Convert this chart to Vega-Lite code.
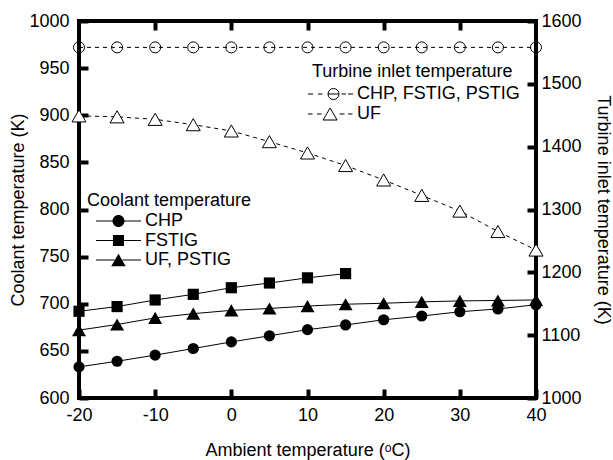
{
  "$schema": "https://vega.github.io/schema/vega-lite/v6.json",
  "width": 457,
  "height": 377,
  "autosize": "none",
  "padding": {"left": 79, "top": 21, "right": 77, "bottom": 62},
  "background": "white",
  "config": {
    "view": {"stroke": "black", "strokeWidth": 4},
    "font": "Arial, Liberation Sans, sans-serif",
    "axis": {
      "grid": false,
      "domain": false,
      "tickColor": "black",
      "tickWidth": 4,
      "tickSize": -9,
      "labelFlush": false,
      "labelExpr": "'' + datum.value",
      "labelFont": "Arial, Liberation Sans, sans-serif",
      "labelFontSize": 18,
      "labelColor": "black",
      "titleFont": "Arial, Liberation Sans, sans-serif",
      "titleFontSize": 18,
      "titleFontWeight": "normal",
      "titleColor": "black"
    },
    "legend": {
      "labelFont": "Arial, Liberation Sans, sans-serif",
      "labelFontSize": 18,
      "labelColor": "black",
      "labelLimit": 400,
      "titleFont": "Arial, Liberation Sans, sans-serif",
      "titleFontSize": 18,
      "titleFontWeight": "normal",
      "titleColor": "black",
      "titleLimit": 400,
      "symbolSize": 100,
      "symbolStrokeWidth": 1,
      "symbolOpacity": 1
    }
  },
  "datasets": {
    "coolant": [
      {"series": "CHP", "ambient": -20, "temp": 633},
      {"series": "CHP", "ambient": -15, "temp": 639},
      {"series": "CHP", "ambient": -10, "temp": 645.5},
      {"series": "CHP", "ambient": -5, "temp": 652.5},
      {"series": "CHP", "ambient": 0, "temp": 659.5},
      {"series": "CHP", "ambient": 5, "temp": 666},
      {"series": "CHP", "ambient": 10, "temp": 672.5},
      {"series": "CHP", "ambient": 15, "temp": 677.5},
      {"series": "CHP", "ambient": 20, "temp": 683},
      {"series": "CHP", "ambient": 25, "temp": 687},
      {"series": "CHP", "ambient": 30, "temp": 691.5},
      {"series": "CHP", "ambient": 35, "temp": 694.5},
      {"series": "CHP", "ambient": 40, "temp": 699},
      {"series": "FSTIG", "ambient": -20, "temp": 692},
      {"series": "FSTIG", "ambient": -15, "temp": 697},
      {"series": "FSTIG", "ambient": -10, "temp": 704},
      {"series": "FSTIG", "ambient": -5, "temp": 710},
      {"series": "FSTIG", "ambient": 0, "temp": 717},
      {"series": "FSTIG", "ambient": 5, "temp": 722},
      {"series": "FSTIG", "ambient": 10, "temp": 727.5},
      {"series": "FSTIG", "ambient": 15, "temp": 732},
      {"series": "UF, PSTIG", "ambient": -20, "temp": 672},
      {"series": "UF, PSTIG", "ambient": -15, "temp": 678},
      {"series": "UF, PSTIG", "ambient": -10, "temp": 685},
      {"series": "UF, PSTIG", "ambient": -5, "temp": 689.5},
      {"series": "UF, PSTIG", "ambient": 0, "temp": 693},
      {"series": "UF, PSTIG", "ambient": 5, "temp": 695},
      {"series": "UF, PSTIG", "ambient": 10, "temp": 697.5},
      {"series": "UF, PSTIG", "ambient": 15, "temp": 699.5},
      {"series": "UF, PSTIG", "ambient": 20, "temp": 700.5},
      {"series": "UF, PSTIG", "ambient": 25, "temp": 702},
      {"series": "UF, PSTIG", "ambient": 30, "temp": 703},
      {"series": "UF, PSTIG", "ambient": 35, "temp": 703.5},
      {"series": "UF, PSTIG", "ambient": 40, "temp": 704}
    ],
    "tit": [
      {"series": "CHP, FSTIG, PSTIG", "ambient": -20, "temp": 1558},
      {"series": "CHP, FSTIG, PSTIG", "ambient": -15, "temp": 1558},
      {"series": "CHP, FSTIG, PSTIG", "ambient": -10, "temp": 1558},
      {"series": "CHP, FSTIG, PSTIG", "ambient": -5, "temp": 1558},
      {"series": "CHP, FSTIG, PSTIG", "ambient": 0, "temp": 1558},
      {"series": "CHP, FSTIG, PSTIG", "ambient": 5, "temp": 1558},
      {"series": "CHP, FSTIG, PSTIG", "ambient": 10, "temp": 1558},
      {"series": "CHP, FSTIG, PSTIG", "ambient": 15, "temp": 1558},
      {"series": "CHP, FSTIG, PSTIG", "ambient": 20, "temp": 1558},
      {"series": "CHP, FSTIG, PSTIG", "ambient": 25, "temp": 1558},
      {"series": "CHP, FSTIG, PSTIG", "ambient": 30, "temp": 1558},
      {"series": "CHP, FSTIG, PSTIG", "ambient": 35, "temp": 1558},
      {"series": "CHP, FSTIG, PSTIG", "ambient": 40, "temp": 1558},
      {"series": "UF", "ambient": -20, "temp": 1449},
      {"series": "UF", "ambient": -15, "temp": 1447.5},
      {"series": "UF", "ambient": -10, "temp": 1443.5},
      {"series": "UF", "ambient": -5, "temp": 1435},
      {"series": "UF", "ambient": 0, "temp": 1425},
      {"series": "UF", "ambient": 5, "temp": 1408},
      {"series": "UF", "ambient": 10, "temp": 1390},
      {"series": "UF", "ambient": 15, "temp": 1370},
      {"series": "UF", "ambient": 20, "temp": 1347},
      {"series": "UF", "ambient": 25, "temp": 1322.5},
      {"series": "UF", "ambient": 30, "temp": 1297.5},
      {"series": "UF", "ambient": 35, "temp": 1265},
      {"series": "UF", "ambient": 40, "temp": 1235.5}
    ]
  },
  "layer": [
    {
      "data": {"name": "coolant"},
      "encoding": {
        "x": {
          "field": "ambient", "type": "quantitative",
          "scale": {"domain": [-20, 40], "nice": false, "zero": false},
          "axis": {"orient": "bottom", "values": [-20, -10, 0, 10, 20, 30, 40], "labelPadding": 17, "title": "Ambient temperature (ᵒC)", "titlePadding": 17}
        },
        "y": {
          "field": "temp", "type": "quantitative",
          "scale": {"domain": [600, 1000], "nice": false, "zero": false},
          "axis": {"orient": "left", "values": [600, 650, 700, 750, 800, 850, 900, 950, 1000], "labelPadding": 19, "title": "Coolant temperature (K)", "titlePadding": 1}
        }
      },
      "layer": [
        {
          "mark": {"type": "line", "color": "black", "strokeWidth": 1},
          "encoding": {"detail": {"field": "series"}}
        },
        {
          "mark": {"type": "point", "filled": true, "color": "black", "opacity": 1},
          "encoding": {
            "shape": {
              "condition": [
                {"test": "datum.series === 'FSTIG'", "value": "square"},
                {"test": "datum.series === 'UF, PSTIG'", "value": "triangle-up"}
              ],
              "value": "circle"
            },
            "size": {"condition": {"test": "datum.series === 'UF, PSTIG'", "value": 196}, "value": 125}
          }
        },
        {
          "mark": {"type": "point", "filled": true, "color": "black", "opacity": 0},
          "encoding": {
            "shape": {
              "field": "series", "type": "nominal",
              "scale": {
                "domain": ["CHP", "FSTIG", "UF, PSTIG"],
                "range": [
                  "M-4.5,-0.1H-1V0.1H-4.5ZM1,-0.1H4.5V0.1H1ZM-1.2,0A1.2,1.2,0,1,1,1.2,0A1.2,1.2,0,1,1,-1.2,0Z",
                  "M-4.5,-0.1H-1V0.1H-4.5ZM1,-0.1H4.5V0.1H1ZM-1.1,-1.1H1.1V1.1H-1.1Z",
                  "M-4.5,-0.1H-0.8V0.1H-4.5ZM0.8,-0.1H4.5V0.1H0.8ZM0,-1.25L1.45,1.25H-1.45Z"
                ]
              },
              "legend": {
                "title": "Coolant temperature",
                "orient": "none",
                "legendX": 8,
                "legendY": 171,
                "titlePadding": 2,
                "rowPadding": 1.5,
                "symbolOffset": 22.5,
                "labelOffset": 17.5,
                "symbolFillColor": "black",
                "symbolStrokeColor": "black"
              }
            },
            "size": {"value": 100}
          }
        }
      ]
    },
    {
      "data": {"name": "tit"},
      "encoding": {
        "x": {
          "field": "ambient", "type": "quantitative",
          "scale": {"domain": [-20, 40], "nice": false, "zero": false},
          "axis": {"orient": "top", "values": [-10, 0, 10, 20, 30], "labels": false, "title": null}
        },
        "y": {
          "field": "temp", "type": "quantitative",
          "scale": {"domain": [1000, 1600], "nice": false, "zero": false},
          "axis": {"orient": "right", "values": [1000, 1100, 1200, 1300, 1400, 1500, 1600], "labelPadding": 14, "title": "Turbine inlet temperature (K)", "titlePadding": 12}
        }
      },
      "layer": [
        {
          "mark": {"type": "line", "color": "black", "strokeWidth": 1, "strokeDash": [4, 4]},
          "encoding": {"detail": {"field": "series"}}
        },
        {
          "mark": {"type": "point", "filled": false, "stroke": "black", "strokeWidth": 1, "opacity": 1},
          "encoding": {
            "shape": {
              "condition": {"test": "datum.series === 'UF'", "value": "triangle-up"},
              "value": "circle"
            },
            "fill": {"condition": {"test": "datum.series === 'UF'", "value": "white"}, "value": "transparent"},
            "size": {"condition": {"test": "datum.series === 'UF'", "value": 196}, "value": 121}
          }
        },
        {
          "mark": {"type": "point", "filled": false, "stroke": "black", "strokeWidth": 1, "opacity": 0},
          "encoding": {
            "shape": {
              "field": "series", "type": "nominal",
              "scale": {
                "domain": ["CHP, FSTIG, PSTIG", "UF"],
                "range": [
                  "M-5.1,0H-4.1M-3.1,0H-2.2M-1.1,0H1.1M1.6,0H2.5M2.9,0H3.9M-1.1,0A1.1,1.1,0,1,1,1.1,0A1.1,1.1,0,1,1,-1.1,0Z",
                  "M-5.1,0H-4.2M-3.3,0H-2.4M1.2,0H2.2M2.9,0H3.8M-0.68,-1.2L0.72,1.2H-2.08Z"
                ]
              },
              "legend": {
                "title": "Turbine inlet temperature",
                "orient": "none",
                "legendX": 233,
                "legendY": 42,
                "titlePadding": 4,
                "rowPadding": 2,
                "symbolOffset": 12.5,
                "labelOffset": 14.5,
                "symbolFillColor": "transparent",
                "symbolStrokeColor": "black"
              }
            },
            "size": {"value": 100}
          }
        }
      ]
    }
  ],
  "resolve": {"scale": {"y": "independent", "shape": "independent"}, "axis": {"x": "independent"}}
}
